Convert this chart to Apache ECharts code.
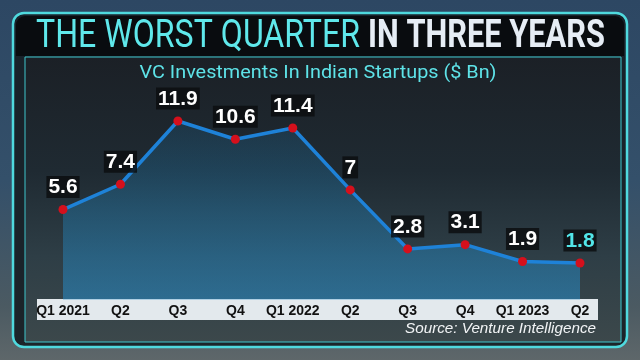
<!DOCTYPE html>
<html><head><meta charset="utf-8">
<script src="https://cdn.jsdelivr.net/npm/echarts@6/dist/echarts.min.js"></script>
<style>html,body{margin:0;padding:0;background:#2e4862;}#c{width:640px;height:360px;}</style>
</head><body><div id="c"></div>
<script>
const categories = ["Q1 2021","Q2","Q3","Q4","Q1 2022","Q2","Q3","Q4","Q1 2023","Q2"];
const investments = [5.6, 7.4, 11.9, 10.6, 11.4, 7, 2.8, 3.1, 1.9, 1.8];
const titleA = "THE WORST QUARTER";
const titleB = "IN THREE YEARS";
const subtitle = "VC Investments In Indian Startups ($ Bn)";
const source = "Source: Venture Intelligence";

const sans = '"Liberation Sans", Arial, sans-serif';
const mctx = document.createElement('canvas').getContext('2d');
function fit(text, font, target){ mctx.font = font; return target / mctx.measureText(text).width; }
const fA = 'normal 38px Roboto';
const fB = 'bold 38px Roboto';
const sA = fit(titleA, fA, 324), sB = fit(titleB, fB, 237);
const sSub = fit(subtitle, 'normal 18px Roboto', 357);
const sSrc = fit(source, 'italic 15px "Liberation Sans"', 191);

const chart = echarts.init(document.getElementById('c'), null, {renderer:'canvas'});
const lastIdx = investments.length - 1;
chart.setOption({
  animation:false,
  backgroundColor:'transparent',
  graphic:[
    {type:'rect', z:-30, silent:true, shape:{x:0,y:0,width:640,height:360},
      style:{fill:new echarts.graphic.LinearGradient(0,0,0,1,[
        {offset:0,color:'#2d4763'},{offset:0.5,color:'#34506a'},{offset:0.85,color:'#4b5a62'},{offset:1,color:'#5e676a'}])}},
    {type:'rect', z:-29, silent:true, shape:{x:13,y:13,width:614,height:334,r:11},
      style:{fill:'rgba(22,30,36,0.9)', stroke:'#4fd9de', lineWidth:2.5}},
    {type:'rect', z:-28, silent:true, shape:{x:16,y:16,width:608,height:40,r:[9,9,0,0]},
      style:{fill:'#090c0f'}},
    {type:'rect', z:-27, silent:true, shape:{x:25,y:57,width:596,height:285},
      style:{fill:new echarts.graphic.LinearGradient(0,0,0,1,[
        {offset:0,color:'#1b2026'},{offset:0.4,color:'#1f2a32'},{offset:0.7,color:'#2e3e46'},{offset:1,color:'#3c484b'}]),
        stroke:'#3fc6cc', lineWidth:1}},
    {type:'rect', z:1, silent:true, shape:{x:37,y:299,width:561,height:21},
      style:{fill:'#e3e9ed'}},
    {type:'text', z:10, x:360, y:37, scaleX:sA, silent:true,
      style:{text:titleA, align:'right', verticalAlign:'middle', font:fA, fill:'#5fe8eb'}},
    {type:'text', z:10, x:368, y:37, scaleX:sB, silent:true,
      style:{text:titleB, align:'left', verticalAlign:'middle', font:fB, fill:'#e6edf5'}},
    {type:'text', z:10, x:318, y:73, scaleX:sSub, silent:true,
      style:{text:subtitle, align:'center', verticalAlign:'middle', font:'normal 18px Roboto', fill:'#5ee3e8'}},
    {type:'text', z:10, x:596, y:329, scaleX:sSrc, silent:true,
      style:{text:source, align:'right', verticalAlign:'middle', font:'italic 15px "Liberation Sans"', fill:'#f2f4f6'}}
  ],
  grid:{left:63, right:60, top:91.5, bottom:60.5},
  xAxis:{type:'category', data:categories, boundaryGap:false, z:5,
    axisLine:{show:false}, axisTick:{show:false}, splitLine:{show:false},
    axisLabel:{margin:5, color:'#111', fontFamily:sans, fontWeight:'bold', fontSize:14, interval:0}},
  yAxis:{type:'value', min:-0.8, max:14, show:false, splitLine:{show:false}},
  series:[{
    type:'line', data:investments.map((v,i)=> i===lastIdx ? {value:v, label:{color:'#52e6e9'}} : v),
    symbol:'circle', symbolSize:9, z:3,
    itemStyle:{color:'#d5101c'},
    lineStyle:{color:'#1e82d8', width:3.5},
    areaStyle:{origin:'start', color:new echarts.graphic.LinearGradient(0,0,0,1,[
      {offset:0,color:'rgba(30,110,160,0.30)'},{offset:0.5,color:'rgba(35,130,185,0.55)'},{offset:1,color:'rgba(40,140,200,0.80)'}])},
    label:{show:true, position:'top', distance:7, color:'#ffffff', fontFamily:sans, fontWeight:'bold',
      fontSize:21, backgroundColor:'rgba(12,14,16,0.85)', padding:[1,2,0,2]}
  }]
});
</script></body></html>
